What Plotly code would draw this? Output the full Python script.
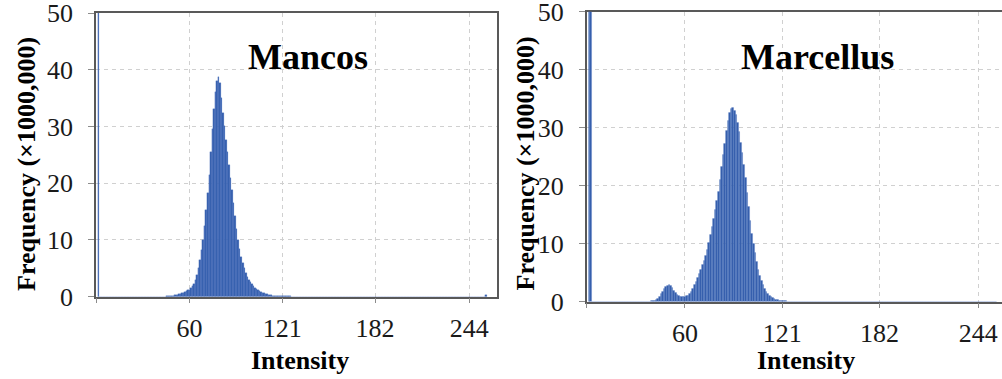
import plotly.graph_objects as go

W, H = 1002, 379

# ---------------- data (frequency in millions, per intensity bin) ----------------
# Mancos
mancos_spike_bins = [0]
mancos_spike_vals = [80.0]          # off-scale background peak
mancos_peak_start = 45
mancos_peak_vals = [
    0.05, 0.08, 0.10, 0.15, 0.20, 0.25, 0.30, 0.35, 0.40, 0.50,   # 45-54
    0.60, 0.70, 0.85, 1.00, 1.10, 1.20, 1.50, 1.80, 2.30, 3.00,   # 55-64
    3.90, 5.00, 6.50, 8.20, 10.0, 12.5, 15.3, 18.3, 21.5, 25.5,   # 65-74
    29.5, 33.0, 36.0, 38.0, 38.7, 37.6, 35.0, 32.3, 30.0, 27.7,   # 75-84
    25.5, 23.3, 21.0, 18.8, 16.5, 14.2, 12.0, 10.0, 8.40, 7.00,   # 85-94
    5.90, 5.00, 4.20, 3.50, 3.00, 2.60, 2.20, 1.90, 1.60, 1.40,   # 95-104
    1.20, 1.00, 0.85, 0.72, 0.60, 0.50, 0.42, 0.35, 0.30, 0.25,   # 105-114
    0.21, 0.18, 0.15, 0.12, 0.10, 0.09, 0.08, 0.07, 0.06, 0.05,   # 115-124
    0.05, 0.04,                                                   # 125-126
]
mancos_tail_bins = [255]
mancos_tail_vals = [0.25]
mancos_floor = 0.03                 # flat bins elsewhere read as ~0

# Marcellus
marcellus_spike_bins = [0, 1]
marcellus_spike_vals = [80.0, 80.0]
marcellus_peak_start = 38
marcellus_peak_vals = [
    0.05, 0.10, 0.15, 0.25, 0.40, 0.60, 0.90, 1.30, 1.80, 2.20,   # 38-47
    2.60, 2.80, 2.85, 2.70, 2.35, 1.90, 1.50, 1.15, 0.95, 0.85,   # 48-57
    0.80, 0.80, 0.85, 0.95, 1.10, 1.40, 1.80, 2.30, 2.90, 3.50,   # 58-67
    4.20, 4.90, 5.60, 6.30, 7.10, 8.00, 9.00, 10.2, 11.5, 12.9,   # 68-77
    14.3, 15.8, 17.4, 19.0, 21.0, 23.2, 25.3, 27.3, 29.5, 31.2,   # 78-87
    32.6, 33.3, 33.5, 33.0, 32.2, 30.8, 29.3, 27.5, 25.7, 23.6,   # 88-97
    21.3, 18.8, 16.3, 14.0, 11.8, 10.0, 8.40, 6.90, 5.60, 4.50,   # 98-107
    3.60, 2.90, 2.30, 1.80, 1.40, 1.10, 0.85, 0.65, 0.50, 0.40,   # 108-117
    0.32, 0.25, 0.20, 0.16, 0.13, 0.10, 0.08, 0.06,               # 118-125
]
marcellus_floor = 0.03

tick_vals = [60, 121, 182, 244]
tick_text = ["60", "121", "182", "244"]
y_ticks = [0, 10, 20, 30, 40, 50]
titles = ["Mancos", "Marcellus"]


def build(spike_bins, spike_vals, start, peak_vals, floor, extra_bins=(), extra_vals=()):
    vals = {i: floor for i in range(256)}
    for b, v in zip(spike_bins, spike_vals):
        vals[b] = v
    for k, v in enumerate(peak_vals):
        vals[start + k] = v
    for b, v in zip(extra_bins, extra_vals):
        vals[b] = v
    xs = list(range(256))
    return xs, [vals[i] for i in xs]


mx, my = build(mancos_spike_bins, mancos_spike_vals, mancos_peak_start,
               mancos_peak_vals, mancos_floor, mancos_tail_bins, mancos_tail_vals)
rx, ry = build(marcellus_spike_bins, marcellus_spike_vals, marcellus_peak_start,
               marcellus_peak_vals, marcellus_floor)

BAR = "#3660AD"
EDGE = "#4B73BD"
SERIF = "Liberation Serif, Times New Roman, serif"

fig = go.Figure()
fig.add_trace(go.Bar(x=mx, y=my, xaxis="x", yaxis="y", width=1.0,
                     marker=dict(color=BAR, line=dict(color=EDGE, width=0.25)),
                     showlegend=False))
fig.add_trace(go.Bar(x=rx, y=ry, xaxis="x2", yaxis="y2", width=1.0,
                     marker=dict(color=BAR, line=dict(color=EDGE, width=0.25)),
                     showlegend=False))


def px_x(p):
    return p / W


def px_y(p):
    return 1 - p / H


axis_common = dict(
    showline=True, linecolor="#595959", linewidth=1.5,
    showgrid=True, gridcolor="#d0d0d0", gridwidth=1, griddash="4px,4px",
    zeroline=False, ticks="outside", tickcolor="#8c8c8c", tickwidth=1,
    tickfont=dict(family=SERIF, size=26, color="#1a1a1a"),
    layer="below traces", ticklabeloverflow="allow", automargin=False,
)

fig.update_layout(
    width=W, height=H,
    margin=dict(l=0, r=0, t=0, b=0, autoexpand=False),
    paper_bgcolor="white", plot_bgcolor="white",
    bargap=0,
    xaxis=dict(domain=[px_x(96), px_x(496.7)], range=[-1.5, 262],
               tickvals=[-1.5] + tick_vals, ticktext=[""] + tick_text,
               ticklen=5, mirror=True, anchor="y", ticklabelstandoff=2,
               **axis_common),
    yaxis=dict(domain=[px_y(296.7), px_y(13)], range=[0, 50.001],
               tickvals=y_ticks, ticklen=6, mirror=True, anchor="x",
               ticklabelstandoff=10, **axis_common),
    xaxis2=dict(domain=[px_x(586.7), 1.0], range=[-1.67, 258.9],
                tickvals=[-1.67] + tick_vals, ticktext=[""] + tick_text,
                ticklen=5, mirror=True, anchor="y2", ticklabelstandoff=2,
                **axis_common),
    yaxis2=dict(domain=[px_y(301.7), px_y(11.7)], range=[0, 50.001],
                tickvals=y_ticks, ticklen=6, mirror=False, anchor="x2",
                ticklabelstandoff=10, **axis_common),
)

ann = []
for (cx, cy, txt) in [(308, 57, titles[0]), (817.5, 57, titles[1])]:
    ann.append(dict(x=px_x(cx), y=px_y(cy), xref="paper", yref="paper",
                    text="<b>%s</b>" % txt, showarrow=False,
                    font=dict(family=SERIF, size=36, color="black"),
                    xanchor="center", yanchor="middle"))
for (cx, cy) in [(299.5, 360), (806, 360)]:
    ann.append(dict(x=px_x(cx), y=px_y(cy), xref="paper", yref="paper",
                    text="<b>Intensity</b>", showarrow=False,
                    font=dict(family=SERIF, size=26, color="black"),
                    xanchor="center", yanchor="middle"))
for (cx, cy) in [(26, 164), (524.5, 164)]:
    ann.append(dict(x=px_x(cx), y=px_y(cy), xref="paper", yref="paper",
                    text="<b>Frequency (×1000,000)</b>", showarrow=False,
                    textangle=-90,
                    font=dict(family=SERIF, size=26, color="black"),
                    xanchor="center", yanchor="middle"))
fig.update_layout(annotations=ann)

fig.write_html("out.html")
